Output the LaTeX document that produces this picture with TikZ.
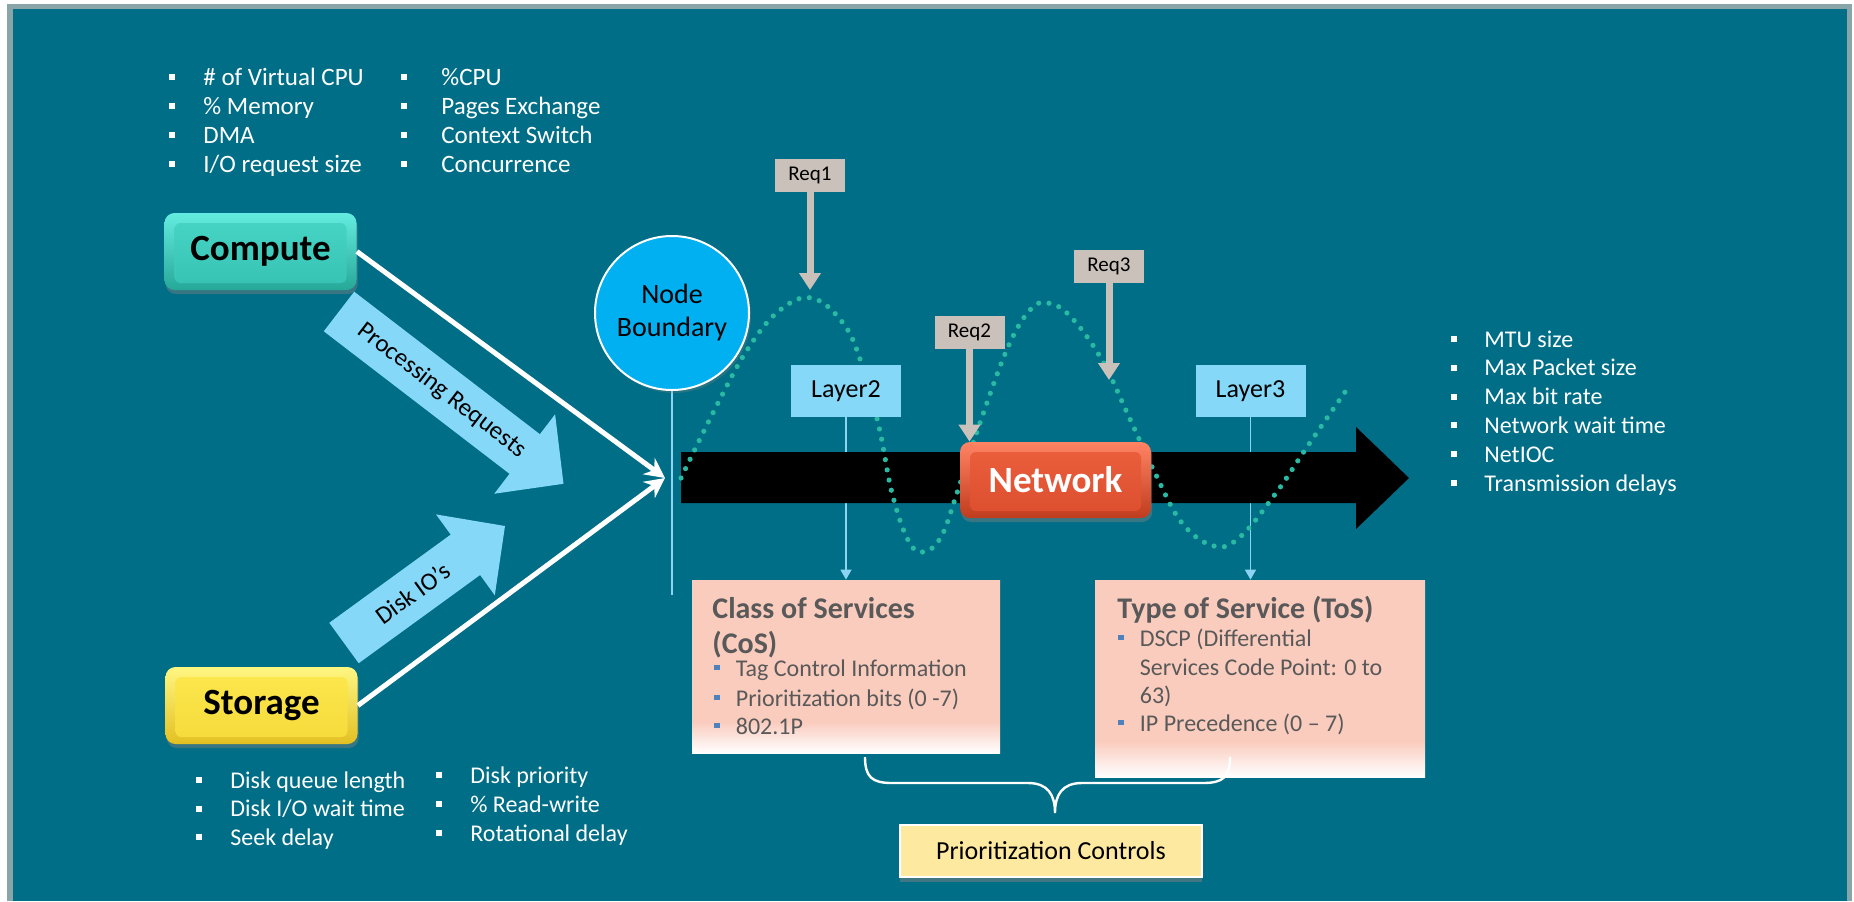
\documentclass[tikz,border=0pt]{standalone}
\usepackage{fontspec}
\setmainfont{Carlito}
\usetikzlibrary{arrows.meta,shadows,calc}

\definecolor{teal0}{RGB}{0,110,134}
\definecolor{framegrey}{RGB}{138,165,168}
\definecolor{skyblue}{RGB}{133,216,247}
\definecolor{nodeblue}{RGB}{0,176,240}
\definecolor{reqgrey}{RGB}{201,193,186}
\definecolor{salmon}{RGB}{250,204,190}
\definecolor{bodygrey}{RGB}{89,89,89}
\definecolor{bulblue}{RGB}{79,129,189}
\definecolor{prioyellow}{RGB}{253,233,160}
\definecolor{wavegreen}{RGB}{42,186,164}
\definecolor{stemblue}{RGB}{141,212,242}
\definecolor{cTop}{RGB}{100,236,224}
\definecolor{cBot}{RGB}{38,168,152}
\definecolor{cInTop}{RGB}{72,214,199}
\definecolor{cInBot}{RGB}{54,194,178}
\definecolor{sTop}{RGB}{255,246,130}
\definecolor{sBot}{RGB}{226,192,34}
\definecolor{sInTop}{RGB}{252,232,78}
\definecolor{sInBot}{RGB}{246,218,58}
\definecolor{nTop}{RGB}{255,132,100}
\definecolor{nBot}{RGB}{192,60,30}
\definecolor{nInTop}{RGB}{236,96,62}
\definecolor{nInBot}{RGB}{220,78,46}

\pgfdeclareverticalshading{fadebottom}{100bp}{color(0bp)=(white); color(25bp)=(white); color(34bp)=(salmon); color(100bp)=(salmon)}

\pgfdeclarelayer{bg}
\pgfdeclarelayer{mid}
\pgfsetlayers{bg,mid,main}

% list bullets
\newcommand{\sqbul}[1]{\makebox[#1][l]{\rule[2.5pt]{3pt}{3pt}}}
\newcommand{\blbul}{\makebox[11pt][l]{\textcolor{bulblue}{\rule[2.8pt]{2.8pt}{2.8pt}}}}

\tikzset{
  listtop/.style={text=white, inner sep=0pt, anchor=base west, font=\fontsize{12.5pt}{15pt}\selectfont},
  listw/.style={text=white, inner sep=0pt, anchor=base west, font=\fontsize{12pt}{14pt}\selectfont},
  pillow/.style={rounded corners=5pt, minimum width=96pt, minimum height=38.5pt, inner sep=0pt,
    font=\fontsize{18.5pt}{20pt}\selectfont\bfseries,
    drop shadow={opacity=0.45, shadow xshift=0.6pt, shadow yshift=-2pt}},
  computebox/.style={pillow, top color=cTop, bottom color=cBot,
    path picture={\shade[top color=cInTop, bottom color=cInBot, rounded corners=3pt]
      ($(path picture bounding box.north west)+(5pt,-5pt)$) rectangle ($(path picture bounding box.south east)+(-5pt,3.5pt)$);}},
  storagebox/.style={pillow, top color=sTop, bottom color=sBot,
    path picture={\shade[top color=sInTop, bottom color=sInBot, rounded corners=3pt]
      ($(path picture bounding box.north west)+(5pt,-5pt)$) rectangle ($(path picture bounding box.south east)+(-5pt,3.5pt)$);}},
  netbox/.style={pillow, minimum width=95.5pt, minimum height=38pt, text=white, top color=nTop, bottom color=nBot,
    path picture={\shade[top color=nInTop, bottom color=nInBot, rounded corners=3pt]
      ($(path picture bounding box.north west)+(5pt,-5pt)$) rectangle ($(path picture bounding box.south east)+(-5pt,3.5pt)$);}},
  arrowlabel/.style={inner sep=0pt, text=black, font=\fontsize{12.5pt}{15pt}\selectfont},
  whitearrow/.style={draw=white, line width=2.5pt, -{Stealth[length=10pt,width=10pt]}},
  nbcircle/.style={circle, minimum size=77pt, inner sep=0pt, fill=nodeblue, draw=white, line width=1pt,
    align=center, font=\fontsize{14pt}{16.5pt}\selectfont,
    drop shadow={opacity=0.3, shadow xshift=1pt, shadow yshift=-1.5pt}},
  stem/.style={draw=stemblue, line width=0.8pt},
  stemarrow/.style={stem, -{Triangle[length=5pt,width=5.5pt]}},
  layerbox/.style={fill=skyblue, minimum width=55pt, minimum height=26pt, inner sep=0pt,
    font=\fontsize{13pt}{15pt}\selectfont},
  reqbox/.style={fill=reqgrey, minimum width=35pt, minimum height=16.5pt, inner sep=0pt,
    font=\fontsize{10.5pt}{12pt}\selectfont},
  reqarrow/.style={draw=reqgrey, line width=3.5pt, -{Triangle[length=8.5pt,width=10.5pt]}},
  wave/.style={draw=wavegreen, line width=2.6pt, line cap=round, dash pattern=on 0pt off 5.2pt},
  infobox/.style={shading=fadebottom, inner sep=0pt},
  hdr/.style={anchor=base west, inner sep=0pt, text=bodygrey, font=\fontsize{15pt}{18pt}\selectfont\bfseries},
  bodytxt/.style={anchor=base west, inner sep=0pt, text=bodygrey, font=\fontsize{12pt}{14pt}\selectfont},
  priobox/.style={fill=prioyellow, draw=white, line width=0.6pt, minimum width=151pt, minimum height=26pt,
    inner sep=0pt, font=\fontsize{13pt}{15pt}\selectfont,
    drop shadow={opacity=0.5, shadow xshift=0pt, shadow yshift=-2.5pt}},
}

\begin{document}
\begin{tikzpicture}[x=0.5pt,y=-0.5pt]
\useasboundingbox (0,0) rectangle (1854,901);

% slide frame and background
\begin{pgfonlayer}{bg}
  \fill[white] (0,0) rectangle (1854,901);
  \fill[framegrey] (7,4) rectangle (1852,901);
  \fill[teal0] (13,9) rectangle (1847,901);
\end{pgfonlayer}

% compute metrics
\foreach \t [count=\i] in {{\# of Virtual CPU},{\% Memory},{DMA},{I/O request size}}
  \node[listtop] (cpu-\i) at (169,{85+29*(\i-1)}) {\sqbul{17pt}\t};
\foreach \t [count=\i] in {{\%CPU},{Pages Exchange},{Context Switch},{Concurrence}}
  \node[listtop] (mem-\i) at (401,{85+29*(\i-1)}) {\sqbul{20pt}\t};

% storage metrics
\foreach \t [count=\i] in {{Disk queue length},{Disk I/O wait time},{Seek delay}}
  \node[listw] (dsk-\i) at (196,{788+28.5*(\i-1)}) {\sqbul{17pt}\t};
\foreach \t [count=\i] in {{Disk priority},{\% Read-write},{Rotational delay}}
  \node[listw] (dio-\i) at (436,{783+29*(\i-1)}) {\sqbul{17pt}\t};

% network metrics
\foreach \t [count=\i] in {{MTU size},{Max Packet size},{Max bit rate},{Network wait time},{NetIOC},{Transmission delays}}
  \node[listw] (net-\i) at (1451,{347+28.8*(\i-1)}) {\sqbul{16.5pt}\t};

% block arrows
\fill[skyblue] (354.2,291.7) -- (539.9,434.2) -- (555.1,414.3) -- (563.5,483.8)
  -- (494.3,493.7) -- (509.5,473.8) -- (323.8,331.3) -- cycle;
\node[arrowlabel, rotate=-37.5] (proclbl) at (442,390.6) {Processing Requests};
\fill[skyblue] (329.3,622.8) -- (450.7,534.6) -- (436.0,514.4) -- (505,526)
  -- (494.8,595.3) -- (480.1,575.0) -- (358.7,663.2) -- cycle;
\node[arrowlabel, rotate=36] (disklbl) at (412.8,593) {Disk IO’s};

% sources
\node[computebox] (compute) at (260.5,251.5) {Compute};
\node[storagebox] (storage) at (261.5,705.5) {Storage};
\coordinate (meet) at (665,478);
\draw[whitearrow] (compute.east) -- (meet);
\draw[whitearrow] (storage.east) -- (meet);

% node boundary
\node[nbcircle] (nb) at (672,313) {Node\\Boundary};
\coordinate (nbfoot) at (672,595);

% network pipe
\fill[black] (681,452) -- (1356,452) -- (1356,427) -- (1409,478) -- (1356,529)
  -- (1356,503) -- (681,503) -- cycle;

% traffic wave
\draw[wave] plot[smooth, tension=0.65] coordinates {
  (681,478) (718,403) (749,347) (780,310) (812,298) (843,323) (861,362) (879,427)
  (892,493) (908,540) (923,552) (941,537) (957,493) (981,420) (1008,347) (1030,310)
  (1048,303) (1071,317) (1102,360) (1129,417) (1155,473) (1182,523) (1214,546)
  (1240,537) (1276,493) (1307,447) (1345,392)};

\node[netbox] (net) at (1055.5,480) {Network};

\node[layerbox] (layer2) at (846,391) {Layer2};
\node[layerbox] (layer3) at (1250.5,391) {Layer3};

% requests
\node[reqbox] (req1) at (810,175.5) {Req1};
\node[reqbox] (req2) at (969.5,332.5) {Req2};
\node[reqbox] (req3) at (1109,266.5) {Req3};
\coordinate (r1tip) at (810,290);
\coordinate (r3tip) at (1109,380);
\draw[reqarrow] (req1.south) -- (r1tip);
\draw[reqarrow] (req2.south) -- (req2.south |- net.north);
\draw[reqarrow] (req3.south) -- (r3tip);

% prioritisation boxes
\node[infobox, minimum width=154pt, minimum height=86.5pt] (cos) at (846,666.5) {};
\node[infobox, minimum width=165pt, minimum height=98.5pt] (tos) at (1260,678.5) {};

\node[hdr] (cosh1) at (712,618) {Class of Services};
\node[hdr] (cosh2) at (712,653) {(CoS)};
\node[bodytxt] (cos-1) at (713.5,676) {\blbul Tag Control Information};
\node[bodytxt] (cos-2) at (713.5,706) {\blbul Prioritization bits (0 -7)};
\node[bodytxt] (cos-3) at (713.5,734) {\blbul 802.1P};

\node[hdr] (tosh) at (1117,618) {Type of Service (ToS)};
\node[bodytxt] (tos-1) at (1117.5,646) {\blbul DSCP (Differential};
\node[bodytxt] (tos-1b) at (1139.5,675) {Services Code Point: 0 to};
\node[bodytxt] (tos-1c) at (1139.5,703) {63)};
\node[bodytxt] (tos-2) at (1117.5,731) {\blbul IP Precedence (0 – 7)};

% vertical guides behind the pipe
\begin{pgfonlayer}{mid}
  \draw[stem] (nb.south) -- (nbfoot);
  \draw[stemarrow] (layer2.south) -- (cos.north);
  \draw[stemarrow] (layer3.south) -- (layer3.south |- tos.north);
\end{pgfonlayer}

% brace gathering both schemes
\coordinate (brL) at (865,757);
\coordinate (brR) at (1230,757);
\coordinate (brTip) at (1055,813);
\draw[white, line width=1.2pt] (brL) .. controls (865,777) and (872,783) .. (892,783)
  -- (1028,783) .. controls (1048,783) and (1055,795) .. (brTip)
  .. controls (1055,795) and (1062,783) .. (1082,783)
  -- (1203,783) .. controls (1223,783) and (1230,777) .. (brR);

\node[priobox] (prio) at (1051,851) {Prioritization Controls};

\end{tikzpicture}
\end{document}
